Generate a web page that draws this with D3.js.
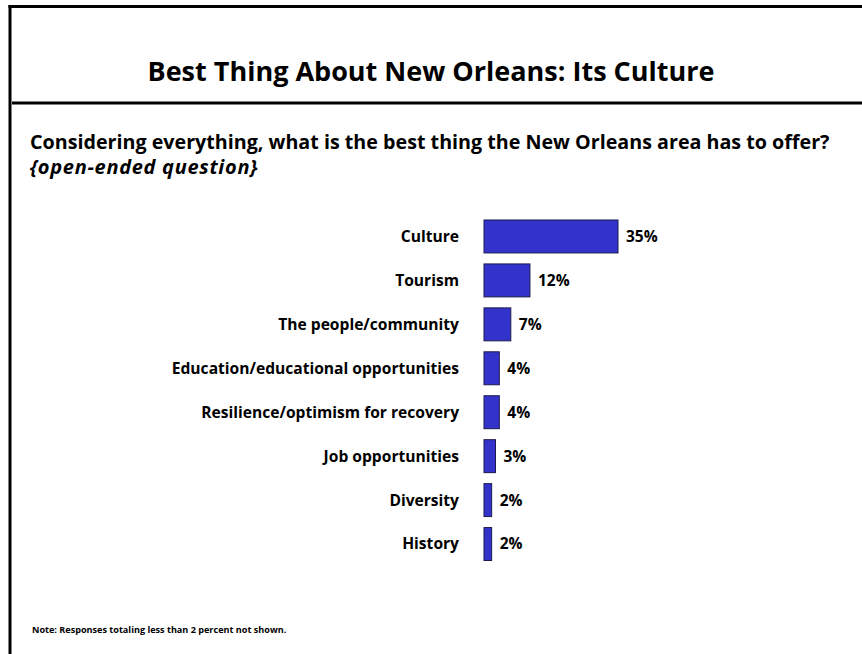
<!DOCTYPE html>
<html>
<head>
<meta charset="utf-8">
<script src="https://cdn.jsdelivr.net/npm/d3@7/dist/d3.min.js"></script>
<style>
  html, body { margin: 0; padding: 0; background: #fff; }
  svg { display: block; }
  text { font-family: "Open Sans", "Liberation Sans", sans-serif; font-weight: bold; fill: #000; }
</style>
</head>
<body>
<script>
// Survey responses: best thing the New Orleans area has to offer
const categories = [
  "Culture",
  "Tourism",
  "The people/community",
  "Education/educational opportunities",
  "Resilience/optimism for recovery",
  "Job opportunities",
  "Diversity",
  "History"
];
const values = [35, 12, 7, 4, 4, 3, 2, 2];

const titleText = "Best Thing About New Orleans: Its Culture";
const questionText = "Considering everything, what is the best thing the New Orleans area has to offer?";
const questionNote = "{open-ended question}";
const footNote = "Note: Responses totaling less than 2 percent not shown.";

const W = 862, H = 654;
const svg = d3.select("body").append("svg").attr("width", W).attr("height", H);

// Slide frame: left and top edges plus the rule under the title
svg.append("line").attr("x1", 10).attr("x2", 10).attr("y1", 5).attr("y2", H)
  .attr("stroke", "#000").attr("stroke-width", 3);
svg.append("line").attr("x1", 8.5).attr("x2", W).attr("y1", 6.5).attr("y2", 6.5)
  .attr("stroke", "#000").attr("stroke-width", 3);
svg.append("line").attr("x1", 12).attr("x2", W).attr("y1", 103).attr("y2", 103)
  .attr("stroke", "#000").attr("stroke-width", 3);

svg.append("text").attr("x", 431).attr("y", 81).attr("text-anchor", "middle")
  .style("font-size", "27px").text(titleText);

svg.append("text").attr("x", 30).attr("y", 149)
  .style("font-size", "19.7px").text(questionText);
svg.append("text").attr("x", 30).attr("y", 174)
  .style("font-size", "20px").style("font-style", "italic")
  .style("letter-spacing", "0.7px").text(questionNote);

// Bar chart
const x0 = 484;
const x = d3.scaleLinear().domain([0, 35]).range([x0, 618]);
const y = d3.scaleBand().domain(categories).range([214.5, 566]).paddingInner(0.25).paddingOuter(0.125);

const rows = svg.append("g").selectAll("g").data(categories).join("g");

rows.append("rect")
  .attr("x", x(0))
  .attr("y", d => y(d))
  .attr("width", (d, i) => x(values[i]) - x(0))
  .attr("height", y.bandwidth())
  .attr("fill", "#3333CC")
  .attr("stroke", "#1a1a4d")
  .attr("stroke-width", 1);

rows.append("text")
  .attr("x", 459)
  .attr("y", d => y(d) + y.bandwidth() / 2)
  .attr("dy", "0.35em")
  .attr("text-anchor", "end")
  .style("font-size", "15.6px")
  .text(d => d);

rows.append("text")
  .attr("x", (d, i) => x(values[i]) + 8)
  .attr("y", d => y(d) + y.bandwidth() / 2)
  .attr("dy", "0.35em")
  .style("font-size", "15.5px")
  .text((d, i) => values[i] + "%");

svg.append("text").attr("x", 32).attr("y", 633)
  .style("font-size", "9.1px").text(footNote);
</script>
</body>
</html>
